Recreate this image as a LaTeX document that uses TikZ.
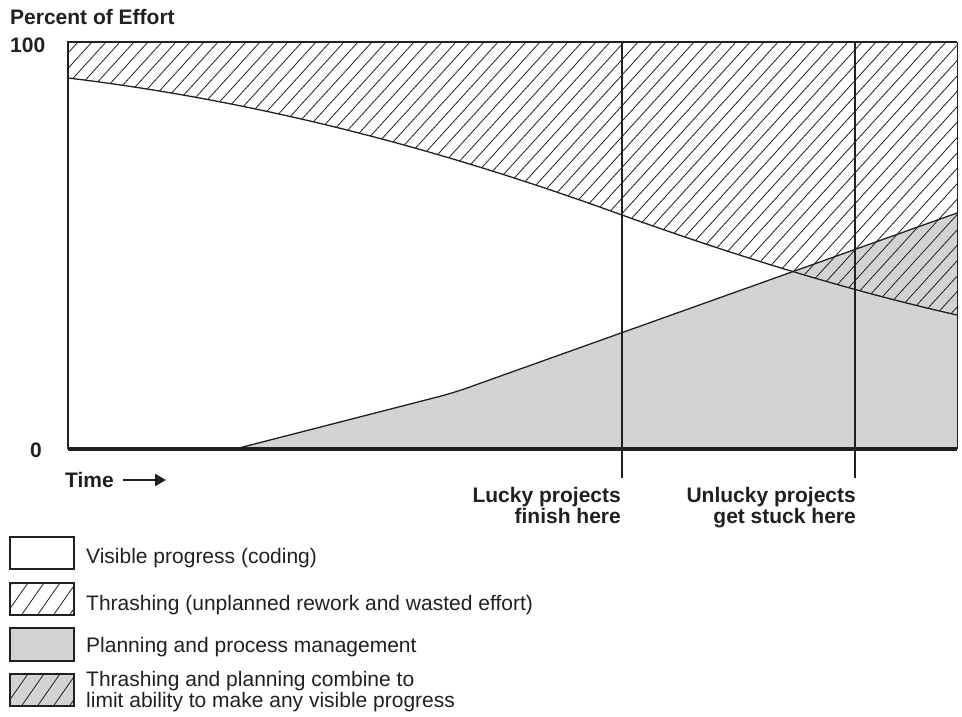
\documentclass[tikz,border=0pt]{standalone}
\usepackage{fontspec}
\setmainfont{Liberation Sans}
\usetikzlibrary{arrows.meta}
\definecolor{ink}{HTML}{231F20}
\definecolor{plan}{HTML}{D1D3D4}
\tikzset{
  lbl/.style={inner sep=0pt, font=\fontsize{21}{21}\selectfont\bfseries, text=ink},
  leg/.style={inner sep=0pt, font=\fontsize{21}{21}\selectfont, text=ink, anchor=base west},
  hatchln/.style={draw=ink, line width=0.8pt},
  curve/.style={draw=ink, line width=1.3pt},
  frame/.style={draw=ink, line width=1.5pt},
  marker/.style={draw=ink, line width=2.5pt},
  legbox/.style={draw=ink, line width=1.2pt},
}
\begin{document}
\begin{tikzpicture}[x=1pt,y=-1pt]
\useasboundingbox (0,0) rectangle (962,717);

% planning region (gray)
\fill[plan] (235,449) [rounded corners=15pt] -- (453,393) [sharp corners] -- (957,213) -- (957,449) -- cycle;

% thrashing region hatch
\begin{scope}
  \clip (68,42) -- (68,78) .. controls (318,108) and (522,179) .. (622,215) .. controls (732,254.6) and (847,290.25) .. (957,315) -- (957,42) -- cycle;
  \foreach \x in {-330,-316,...,970} {
    \draw[hatchln] (\x,460) -- ++(380,-418);
  }
\end{scope}

% curves
\draw[curve] (68,78) .. controls (318,108) and (522,179) .. (622,215) .. controls (732,254.6) and (847,290.25) .. (957,315);
\draw[curve] (235,449) [rounded corners=15pt] -- (453,393) [sharp corners] -- (957,213);

% frame
\draw[frame] (68,449) -- (68,42) -- (957,42);
\draw[draw=ink, line width=1pt] (957,42) -- (957,449);

% marker lines
\coordinate (l1t) at (622,42);
\coordinate (l1b) at (622,478);
\coordinate (l2t) at (855,42);
\coordinate (l2b) at (855,478);
\draw[marker] (l1t) -- (l1b);
\draw[marker] (l2t) -- (l2b);

% baseline
\draw[draw=ink, line width=3.6pt] (68,449) -- (957,449);

% axis labels
\node[lbl, anchor=base west] (ytitle) at (10,25) {Percent of Effort};
\node[lbl, anchor=base west] (y100) at (10,53) {100};
\node[lbl, anchor=base east] (y0) at (42,457) {0};
\node[lbl, anchor=base west] (time) at (65,487) {Time};
\coordinate (ta) at (123,480);
\coordinate (tb) at (166,480);
\draw[draw=ink, line width=2.5pt, -{Triangle[length=11pt,width=12pt]}] (ta) -- (tb);

\node[lbl, anchor=base east] (lucky1) at (621,502) {Lucky projects};
\node[lbl, anchor=base east] (lucky2) at (621,523) {finish here};
\node[lbl, anchor=base east] (unl1) at (856,502) {Unlucky projects};
\node[lbl, anchor=base east] (unl2) at (856,523) {get stuck here};

% legend
\draw[legbox, fill=white] (10,537) rectangle (74,569);
\node[leg] (t1) at (86,563) {Visible progress (coding)};

\begin{scope}
  \clip (10,583) rectangle (74,615);
  \foreach \x in {-30,-14,...,90} \draw[hatchln] (\x,620) -- ++(28,-40);
\end{scope}
\draw[legbox] (10,583) rectangle (74,615);
\node[leg] (t2) at (86,610) {Thrashing (unplanned rework and wasted effort)};

\draw[legbox, fill=plan] (10,628) rectangle (74,661);
\node[leg] (t3) at (86,652) {Planning and process management};

\fill[plan] (10,674) rectangle (74,706);
\begin{scope}
  \clip (10,674) rectangle (74,706);
  \foreach \x in {-30,-14,...,90} \draw[hatchln] (\x,711) -- ++(28,-40);
\end{scope}
\draw[legbox] (10,674) rectangle (74,706);
\node[leg] (t4a) at (86,686) {Thrashing and planning combine to};
\node[leg] (t4b) at (86,707) {limit ability to make any visible progress};
\end{tikzpicture}
\end{document}
